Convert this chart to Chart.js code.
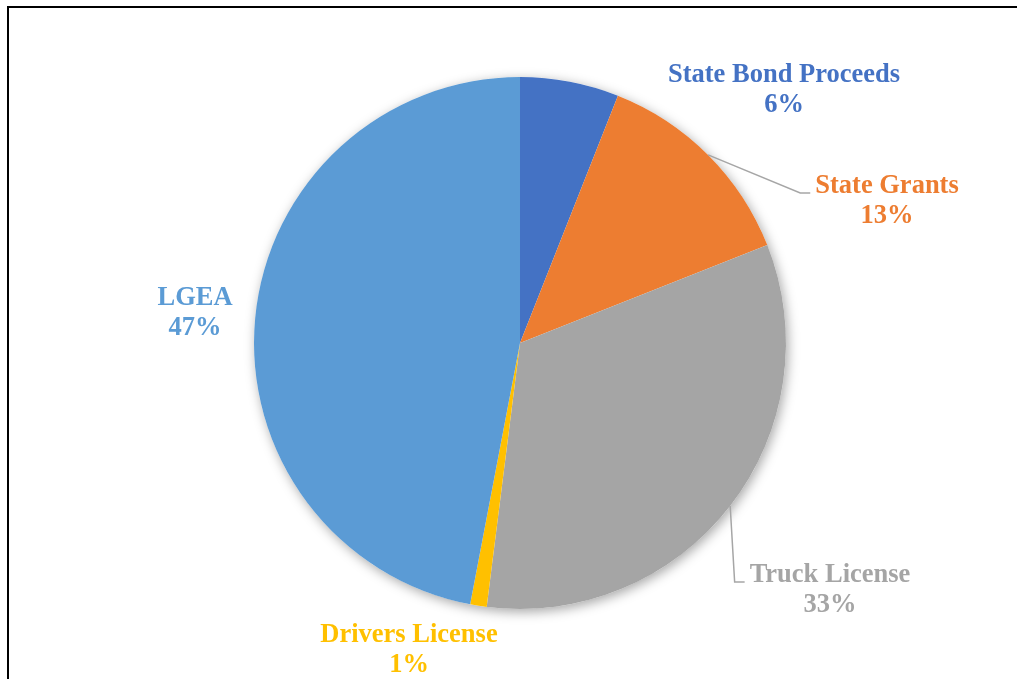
<!DOCTYPE html>
<html>
<head>
<meta charset="utf-8">
<title>Revenue Sources</title>
<script src="https://cdn.jsdelivr.net/npm/chart.js@4/dist/chart.umd.min.js"></script>
<style>
    html, body { margin: 0; padding: 0; background: #fff; }
    #wrap { position: relative; width: 1020px; height: 679px; overflow: hidden; }
    #frame { position: absolute; left: 7px; top: 6px; width: 1008px; height: 700px;
             border-top: 2px solid #000; border-left: 2px solid #000; }
    #chart { position: absolute; left: 0; top: 0; }
</style>
</head>
<body>
<div id="wrap">
    <div id="frame"></div>
    <canvas id="chart" width="1020" height="679"></canvas>
</div>
<script>
(() => {
    const categories = ['State Bond Proceeds', 'State Grants', 'Truck License', 'Drivers License', 'LGEA'];
    const shares = [6, 13, 33, 1, 47];
    const colors = ['#4472C4', '#ED7D31', '#A5A5A5', '#FFC000', '#5B9BD5'];

    // where each two-line label sits (centre x, baseline of first line), and whether it gets a leader
    const labelSpots = [
        {x: 784, y: 82, leader: false},
        {x: 887, y: 193, leader: true},
        {x: 830, y: 582, leader: true},
        {x: 409, y: 642, leader: false},
        {x: 195, y: 305, leader: false}
    ];

    const FONT = 'bold 26.5px "Liberation Serif", "Times New Roman", serif';
    const LINE_GAP = 30;
    const total = shares.reduce((a, b) => a + b, 0);

    // soft shadow under the whole pie, drawn once so slices don't shade each other
    const pieShadow = {
        id: 'pieShadow',
        beforeDatasetsDraw(chart) {
            const arc = chart.getDatasetMeta(0).data[0];
            if (!arc)
                return;
            const {ctx} = chart;
            ctx.save();
            ctx.shadowColor = 'rgba(0, 0, 0, 0.35)';
            ctx.shadowBlur = 12;
            ctx.shadowOffsetX = 2;
            ctx.shadowOffsetY = 3;
            ctx.fillStyle = '#ffffff';
            ctx.beginPath();
            ctx.arc(arc.x, arc.y, arc.outerRadius, 0, Math.PI * 2);
            ctx.fill();
            ctx.restore();
        }
    };

    const sliceLabels = {
        id: 'sliceLabels',
        afterDatasetsDraw(chart) {
            const {ctx} = chart;
            const arcs = chart.getDatasetMeta(0).data;
            ctx.save();
            ctx.font = FONT;
            ctx.textAlign = 'center';
            ctx.textBaseline = 'alphabetic';
            arcs.forEach((arc, i) => {
                const spot = labelSpots[i];
                const pct = Math.round(shares[i] / total * 100) + '%';
                const name = categories[i];

                if (spot.leader) {
                    const mid = (arc.startAngle + arc.endAngle) / 2;
                    const sx = arc.x + Math.cos(mid) * arc.outerRadius;
                    const sy = arc.y + Math.sin(mid) * arc.outerRadius;
                    const textLeft = spot.x - ctx.measureText(name).width / 2;
                    ctx.strokeStyle = '#A6A6A6';
                    ctx.lineWidth = 1.5;
                    ctx.beginPath();
                    ctx.moveTo(sx, sy);
                    ctx.lineTo(textLeft - 15, spot.y);
                    ctx.lineTo(textLeft - 5, spot.y);
                    ctx.stroke();
                }

                ctx.fillStyle = colors[i];
                ctx.fillText(name, spot.x, spot.y);
                ctx.fillText(pct, spot.x, spot.y + LINE_GAP);
            });
            ctx.restore();
        }
    };

    new Chart(document.getElementById('chart'), {
        type: 'pie',
        data: {
            labels: categories,
            datasets: [{
                data: shares,
                backgroundColor: colors,
                borderWidth: 0
            }]
        },
        options: {
            responsive: false,
            animation: false,
            layout: {
                padding: {top: 77, bottom: 70, left: 254, right: 234}
            },
            plugins: {
                legend: {display: false},
                tooltip: {enabled: false}
            }
        },
        plugins: [pieShadow, sliceLabels]
    });
})();
</script>
</body>
</html>
